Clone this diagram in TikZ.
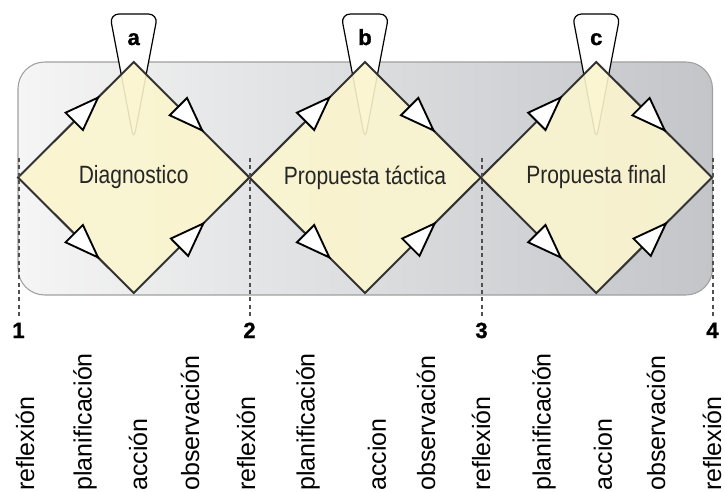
\documentclass[tikz,border=0pt]{standalone}
\usepackage{fontspec}
\setmainfont{Liberation Sans}
\newfontfamily\narrowfont[FakeStretch=0.84]{Liberation Sans}
\newfontfamily\heavyfont[FakeBold=1.2]{Liberation Sans Bold}
\usetikzlibrary{shapes.geometric,arrows.meta,decorations.markings}

\definecolor{panelleft}{RGB}{245,245,245}
\definecolor{panelright}{RGB}{195,197,201}
\definecolor{panelline}{RGB}{160,160,160}
\definecolor{stagefill}{RGB}{251,245,206}
\definecolor{stageline}{RGB}{50,50,50}
\definecolor{dividerline}{RGB}{80,80,80}

\tikzset{
  panel/.style={draw=panelline, line width=0.8pt, rounded corners=20pt, left color=panelleft, right color=panelright},
  stage/.style={shape=diamond, draw=stageline, line width=1.5pt, fill=stagefill, fill opacity=0.9, text opacity=1, minimum width=173.5pt, minimum height=173.25pt, inner sep=0pt, outer sep=0pt, text=black!85, font=\narrowfont\fontsize{18.75}{21}\selectfont},
  tagshape/.style={draw=black, line width=0.9pt, fill=white, rounded corners=7pt},
  taglabel/.style={inner sep=0pt, font=\heavyfont\fontsize{16.5}{18}\selectfont},
  stepnum/.style={inner sep=0pt, font=\heavyfont\fontsize{16.5}{18}\selectfont},
  divider/.style={draw=dividerline, line width=1.5pt, dash pattern={on 3pt off 2.5pt}, shorten >=5pt},
  phase/.style={rotate=90, anchor=west, inner sep=0pt, font=\fontsize{18.75}{20}\selectfont},
  flow/.style={postaction={decorate}, decoration={markings, mark=at position #1 with {\arrow{Triangle[length=28pt, width=20pt, line width=1.4pt, fill=white]}}}},
}

\begin{document}
\begin{tikzpicture}[x=0.75pt,y=0.75pt,yscale=-1,xscale=1]
	\useasboundingbox (0,0) rectangle (725,492);
	
	%Shape: Rounded Rect
	\draw [panel] (18,62) rectangle (712.5,295);
	
	%Shape: Tags
	\draw [tagshape] (133.7,140) -- (109.7,14) -- (157.7,14) -- cycle;
	\draw [tagshape] (365,140) -- (341,14) -- (389,14) -- cycle;
	\draw [tagshape] (596.3,140) -- (572.3,14) -- (620.3,14) -- cycle;
	
	%Shape: Diamonds
	\node [stage] (diag) at (133.7,177.5) {Diagnostico};
	\node [stage] (tact) at (365,177.5) {Propuesta táctica};
	\node [stage] (final) at (596.3,177.5) {Propuesta final};
	
	% Text Node
	\node [taglabel, anchor=base] (la) at (133.7,45) {a};
	\node [taglabel, anchor=base] (lb) at (365,45) {b};
	\node [taglabel, anchor=base] (lc) at (596.3,45) {c};
	
	%Straight Lines: flow along the edges
	\path [flow=0.71] (diag.west) -- (diag.north);
	\path [flow=0.61] (diag.north) -- (diag.east);
	\path [flow=0.71] (diag.west) -- (diag.south);
	\path [flow=0.62] (diag.south) -- (diag.east);
	\path [flow=0.71] (tact.west) -- (tact.north);
	\path [flow=0.61] (tact.north) -- (tact.east);
	\path [flow=0.71] (tact.west) -- (tact.south);
	\path [flow=0.62] (tact.south) -- (tact.east);
	\path [flow=0.71] (final.west) -- (final.north);
	\path [flow=0.61] (final.north) -- (final.east);
	\path [flow=0.71] (final.west) -- (final.south);
	\path [flow=0.62] (final.south) -- (final.east);
	
	% Text Node
	\node [stepnum, anchor=base] (n1) at (18.5,338) {1};
	\node [stepnum, anchor=base] (n2) at (249.5,338) {2};
	\node [stepnum, anchor=base] (n3) at (481.5,338) {3};
	\node [stepnum, anchor=base] (n4) at (712.5,338) {4};
	
	%Straight Lines: dividers
	\coordinate (d1) at (18.5,158);
	\coordinate (d2) at (249.5,158);
	\coordinate (d3) at (481.5,158);
	\coordinate (d4) at (712.5,158);
	\draw [divider] (d1) -- (n1);
	\draw [divider] (d2) -- (n2);
	\draw [divider] (d3) -- (n3);
	\draw [divider] (d4) -- (n4);
	
	% Text Node
	\node [phase] (p1) at (25,491) {reflexión};
	\node [phase] (p2) at (85,491) {planificación};
	\node [phase] (p3) at (138,491) {acción};
	\node [phase] (p4) at (190,491) {observación};
	\node [phase] (p5) at (246,491) {reflexión};
	\node [phase] (p6) at (308,491) {planificación};
	\node [phase] (p7) at (377,491) {accion};
	\node [phase] (p8) at (426,491) {observación};
	\node [phase] (p9) at (481,491) {reflexión};
	\node [phase] (p10) at (544,491) {planificación};
	\node [phase] (p11) at (603,491) {accion};
	\node [phase] (p12) at (656,491) {observación};
	\node [phase] (p13) at (712,491) {reflexión};
	
\end{tikzpicture}
\end{document}
